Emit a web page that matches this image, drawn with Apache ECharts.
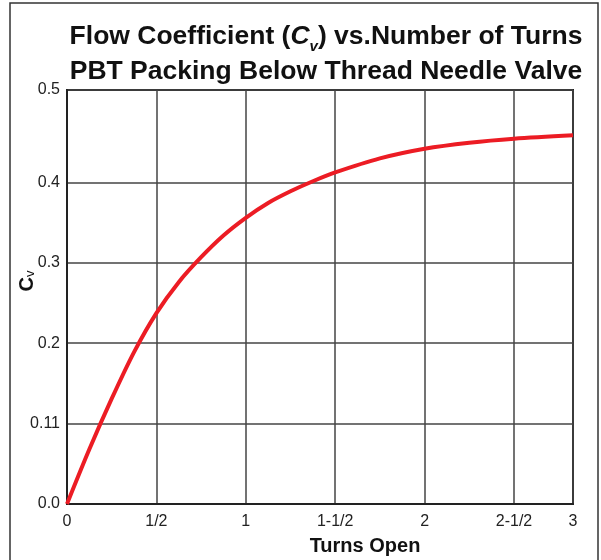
<!DOCTYPE html>
<html>
<head>
<meta charset="utf-8">
<script src="https://cdn.jsdelivr.net/npm/echarts@6/dist/echarts.min.js"></script>
<style>
  html, body { margin: 0; padding: 0; background: #fff; }
  #main { width: 601px; height: 560px; }
</style>
</head>
<body>
<div id="main"></div>
<script>
// turns open (axis units) and Cv
var turns = [0, 0.125, 0.25, 0.375, 0.5, 0.625, 0.75, 0.875, 1.0, 1.125, 1.25, 1.375, 1.5, 1.75, 2.0, 2.25, 2.5, 2.83];
var cv = [0, 0.068, 0.131, 0.189, 0.2375, 0.276, 0.307, 0.334, 0.356, 0.3745, 0.389, 0.4015, 0.4125, 0.430, 0.442, 0.4495, 0.4545, 0.4587];

// tick positions and their printed labels
var xTickValues = [0, 0.5, 1, 1.5, 2, 2.5, 2.83];
var xTickLabels = ['0', '1/2', '1', '1-1/2', '2', '2-1/2', '3'];
var yTickValues = [0, 0.1, 0.2, 0.3, 0.4, 0.515];
var yTickLabels = ['0.0', '0.11', '0.2', '0.3', '0.4', '0.5'];

var font = "'Liberation Sans', Arial, sans-serif";

var points = [];
for (var i = 0; i < turns.length; i++) {
  points.push([turns[i], cv[i]]);
}

var myChart = echarts.init(document.getElementById('main'));

var option = {
  backgroundColor: '#fff',
  animation: false,
  title: {
    text: '{b|Flow Coefficient (}{i|C}{s|v}{b|) vs.Number of Turns}\n{b|PBT Packing Below Thread Needle Valve}',
    left: 321,
    top: 14,
    textAlign: 'center',
    textStyle: {
      rich: {
        b: { fontFamily: font, fontWeight: 'bold', fontSize: 26.5, color: '#111', lineHeight: 35 },
        i: { fontFamily: font, fontWeight: 'bold', fontStyle: 'italic', fontSize: 26.5, color: '#111', lineHeight: 35 },
        s: { fontFamily: font, fontWeight: 'bold', fontStyle: 'italic', fontSize: 15, color: '#111', lineHeight: 35, verticalAlign: 'bottom', padding: [12, 0, 0, 0] }
      }
    }
  },
  graphic: [{
    type: 'rect',
    shape: { x: 10, y: 3, width: 588, height: 620 },
    style: { fill: 'none', stroke: '#333', lineWidth: 1.5 },
    silent: true
  }],
  grid: {
    left: 67,
    right: 28,
    top: 90,
    bottom: 56,
    outerBoundsMode: 'none',
    show: true,
    borderColor: '#222',
    borderWidth: 2
  },
  xAxis: {
    type: 'value',
    min: 0,
    max: 2.83,
    name: 'Turns Open',
    nameLocation: 'middle',
    nameGap: 32,
    nameMoveOverlap: false,
    nameTextStyle: { fontFamily: font, fontWeight: 'bold', fontSize: 20, color: '#111', padding: [0, 0, 0, 90] },
    axisLine: { show: true, lineStyle: { color: '#222', width: 2 } },
    axisTick: { show: false, customValues: xTickValues },
    axisLabel: {
      customValues: xTickValues,
      margin: 10,
      fontFamily: font,
      fontSize: 16,
      color: '#222',
      formatter: function (v) {
        var k = xTickValues.indexOf(v);
        return k >= 0 ? xTickLabels[k] : '';
      }
    },
    splitLine: { show: true, lineStyle: { color: '#444', width: 1.5 } }
  },
  yAxis: {
    type: 'value',
    min: 0,
    max: 0.515,
    name: '{c|C}{v|v}',
    nameLocation: 'middle',
    nameGap: 30,
    nameMoveOverlap: false,
    nameTextStyle: {
      padding: [0, 0, 0, 32],
      rich: {
        c: { fontFamily: font, fontWeight: 'bold', fontSize: 20, color: '#111' },
        v: { fontFamily: font, fontSize: 13, color: '#111', verticalAlign: 'bottom', padding: [6, 0, 0, 0] }
      }
    },
    axisLine: { show: true, lineStyle: { color: '#222', width: 2 } },
    axisTick: { show: false, customValues: yTickValues },
    axisLabel: {
      customValues: yTickValues,
      margin: 7,
      fontFamily: font,
      fontSize: 16,
      color: '#222',
      formatter: function (v) {
        var k = yTickValues.indexOf(v);
        return k >= 0 ? yTickLabels[k] : '';
      }
    },
    splitLine: { show: true, lineStyle: { color: '#444', width: 1.5 } }
  },
  series: [{
    type: 'line',
    data: points,
    smooth: 0.3,
    showSymbol: false,
    lineStyle: { color: '#ec1c24', width: 4 },
    z: 5
  }]
};

myChart.setOption(option);
</script>
</body>
</html>
